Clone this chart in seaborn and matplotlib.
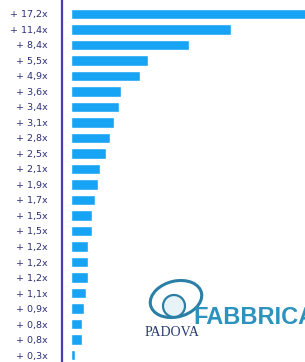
import numpy as np
import pandas as pd
import matplotlib
matplotlib.use("Agg")
import matplotlib.pyplot as plt
from matplotlib.patches import Ellipse, Circle
import seaborn as sns

# growth multiples, top to bottom
values = [17.2, 11.4, 8.4, 5.5, 4.9, 3.6, 3.4, 3.1, 2.8, 2.5, 2.1,
          1.9, 1.7, 1.5, 1.5, 1.2, 1.2, 1.2, 1.1, 0.9, 0.8, 0.8, 0.3]
labels = ["+ " + f"{v:.1f}".replace(".", ",") + "x" for v in values]

df = pd.DataFrame({"rank": range(len(values)), "value": values})

sns.set_style("white")
plt.rcParams['font.family'] = ['DejaVu Sans']

fig = plt.figure(figsize=(3.05, 3.62), dpi=100)
ax = fig.add_axes([62 / 305, 0, 1 - 62 / 305, 1])

sns.barplot(data=df, y="rank", x="value", orient="h", color="#18a4f4",
            saturation=1, width=0.68, ax=ax)

ax.set_xlim(-0.64, 16.71)
ax.set_ylim(22.45, -0.9)
ax.set_yticks(range(len(values)))
ax.set_yticklabels(labels, fontsize=6.8, color="#2b2f78")
ax.tick_params(axis="y", length=0, pad=10)
ax.set_xticks([])
ax.set_xlabel("")
ax.set_ylabel("")
for s in ["top", "right", "bottom"]:
    ax.spines[s].set_visible(False)
ax.spines["left"].set_color("#4a3db0")
ax.spines["left"].set_linewidth(1.6)

# logo
fig.patches.append(Ellipse((176 / 305, 1 - 299 / 362), 52 / 305, 36 / 362, angle=10,
                           transform=fig.transFigure, fill=False,
                           edgecolor="#2a7fa6", linewidth=2.2))
fig.patches.append(Ellipse((174 / 305, 1 - 306 / 362), 22 / 305, 22 / 362,
                           transform=fig.transFigure, facecolor="#e8f3f8",
                           edgecolor="#2a7fa6", linewidth=1.6))
fig.text(193 / 305, 1 - 318 / 362, "FABBRICA", fontsize=17, fontweight="bold",
         family=["Liberation Sans Narrow", "Liberation Sans"],
         color="#2c93be", va="center", ha="left")
fig.text(145 / 305, 1 - 332 / 362, "PADOVA", fontsize=10, family="Liberation Serif",
         color="#253a6e", va="center", ha="left")

fig.savefig("out.png", dpi=100)
